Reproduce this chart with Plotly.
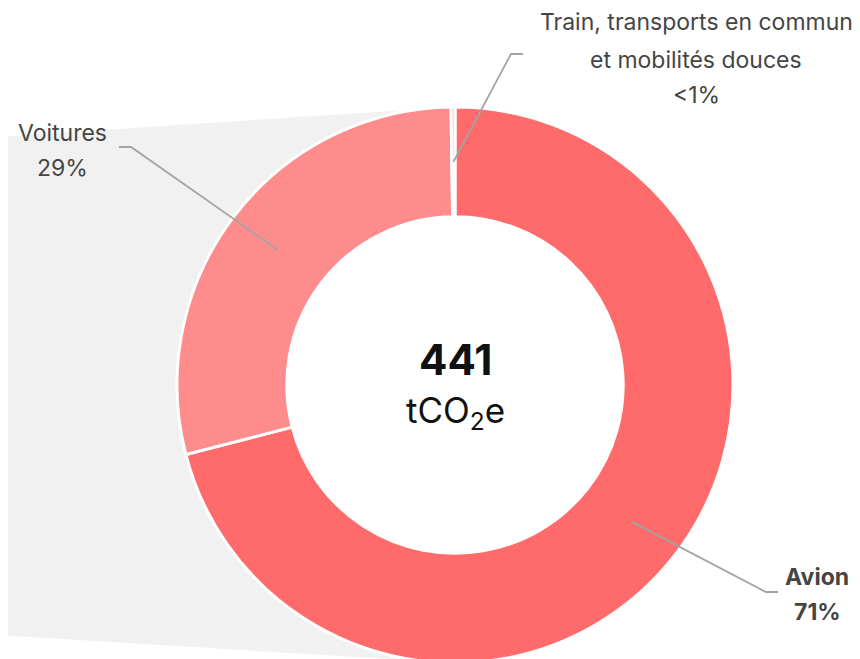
import math
import plotly.graph_objects as go

# ---- data ----
categories = ["Avion", "Voitures", "Train, transports en commun et mobilités douces"]
values = [313, 127, 1]
pct_labels = ["71%", "29%", "<1%"]
total_value = "441"
unit = "tCO<sub>2</sub>e"

# ---- layout constants (pixels in the screenshot) ----
W, H = 860, 659
OFF = 8  # page body margin offset
CX, CY = 455, 385
R = 278
HOLE = 0.605
colors = ["#FF6B6B", "#FF8C8C", "#FFB0B0"]
label_color = "#454545"
FONT = "Inter, Lato, sans-serif"

def px(x):
    return (x - OFF) / W

def py(y):
    return 1 - (y - OFF) / H

fig = go.Figure()
fig.add_trace(go.Pie(
    labels=categories,
    values=values,
    sort=False,
    direction="clockwise",
    rotation=0,
    hole=HOLE,
    marker=dict(colors=colors, line=dict(color="white", width=3)),
    textinfo="none",
    hoverinfo="label+percent",
    showlegend=False,
    domain=dict(x=[px(CX - R), px(CX + R)], y=[py(CY + R), py(CY - R)]),
))

shapes = []
# grey background trapezoid
shapes.append(dict(
    type="path", xref="paper", yref="paper", layer="below",
    path=f"M {px(-20)},{py(138)} L {px(CX)},{py(CY - R)} L {px(CX)},{py(CY + R)} L {px(-20)},{py(634)} Z",
    fillcolor="#F1F1F1", line=dict(width=0),
))
# white hole
r_in = R * HOLE
shapes.append(dict(
    type="circle", xref="paper", yref="paper", layer="below",
    x0=px(CX - r_in), x1=px(CX + r_in), y0=py(CY + r_in), y1=py(CY - r_in),
    fillcolor="white", line=dict(width=0),
))

# leader lines from slice mid-angle
tot = sum(values)
cum = 0
mids = []
for v in values:
    mids.append((cum + v / 2) / tot * 2 * math.pi)
    cum += v
r_mid = R * (1 + HOLE) / 2
elbows = [((766, 592), (778, 592)), ((131, 147), (119, 147)), ((511, 54), (523, 54))]
for ang, (el, en) in zip(mids, elbows):
    sx = CX + r_mid * math.sin(ang)
    sy = CY - r_mid * math.cos(ang)
    shapes.append(dict(
        type="path", xref="paper", yref="paper", layer="above",
        path=f"M {px(sx)},{py(sy)} L {px(el[0])},{py(el[1])} L {px(en[0])},{py(en[1])}",
        line=dict(color="#A3A3A3", width=1.8),
    ))

annotations = []
def ann(x, y, text, size, color=label_color):
    annotations.append(dict(
        x=px(x), y=py(y), xref="paper", yref="paper", text=text, showarrow=False,
        xanchor="center", yanchor="middle",
        font=dict(family=FONT, size=size, color=color),
    ))

LS = 23
ann(817, 577, f"<b>{categories[0]}</b>", LS)
ann(817, 612, f"<b>{pct_labels[0]}</b>", LS)
ann(62, 133, categories[1], LS)
ann(62, 168, pct_labels[1], LS)
ann(696, 22, "Train, transports en commun", LS)
ann(696, 60, "et mobilités douces", LS)
ann(696, 95, pct_labels[2], LS)
ann(CX, 359, f"<b>{total_value}</b>", 42, "#111111")
ann(CX, 412, unit, 35, "#111111")

fig.update_layout(
    width=W, height=H,
    margin=dict(l=0, r=0, t=0, b=0),
    paper_bgcolor="white", plot_bgcolor="white",
    shapes=shapes, annotations=annotations,
)
fig.write_html("out.html")
